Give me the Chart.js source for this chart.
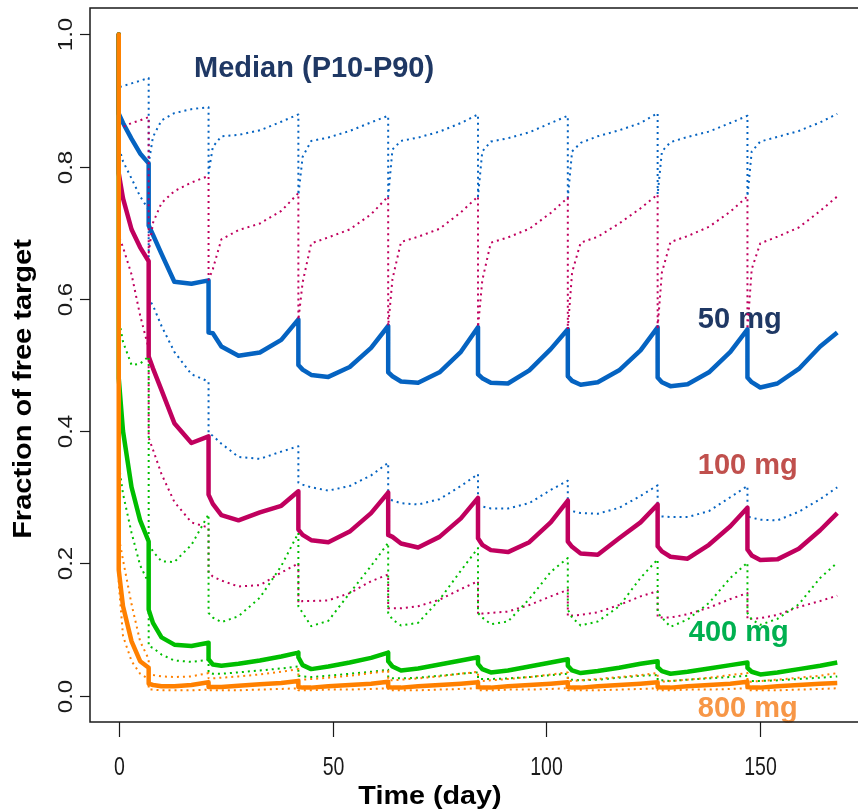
<!DOCTYPE html>
<html>
<head>
<meta charset="utf-8">
<script src="https://cdn.jsdelivr.net/npm/chart.js@4"></script>
<style>
  html, body { margin: 0; padding: 0; background: #fff; overflow: hidden; }
  canvas { display: block; }
</style>
</head>
<body>
<canvas id="chart" width="880" height="812"></canvas>
<script>
// time grid (days); a repeated day is the value just before / just after a dose
const days = [
  0, 0, 1, 3, 5, 7,
  7, 8, 10, 13, 17, 21,
  21, 22, 24, 28, 33, 38, 42,
  42, 43, 45, 49, 54, 59, 63,
  63, 64, 66, 70, 75, 80, 84,
  84, 85, 87, 91, 96, 101, 105,
  105, 106, 108, 112, 117, 122, 126,
  126, 127, 129, 133, 138, 143, 147,
  147, 148, 150, 154, 159, 164, 168
];

// 50 mg
const med50 = [
  1.00, 0.880, 0.866, 0.842, 0.820, 0.805,
  0.711, 0.697, 0.668, 0.626, 0.623, 0.628,
  0.549, 0.548, 0.528, 0.514, 0.519, 0.538, 0.569,
  0.500, 0.493, 0.485, 0.482, 0.497, 0.526, 0.559,
  0.489, 0.483, 0.475, 0.473, 0.489, 0.520, 0.557,
  0.486, 0.480, 0.473, 0.472, 0.492, 0.524, 0.554,
  0.483, 0.476, 0.470, 0.474, 0.492, 0.522, 0.557,
  0.481, 0.474, 0.468, 0.471, 0.489, 0.520, 0.554,
  0.481, 0.474, 0.466, 0.472, 0.494, 0.528, 0.549
];
const lo50 = [
  1.00, 0.830, 0.808, 0.782, 0.755, 0.735,
  0.600, 0.590, 0.559, 0.520, 0.486, 0.475,
  0.397, 0.393, 0.381, 0.361, 0.358, 0.369, 0.377,
  0.322, 0.319, 0.315, 0.310, 0.317, 0.333, 0.352,
  0.299, 0.295, 0.291, 0.289, 0.297, 0.317, 0.335,
  0.289, 0.286, 0.283, 0.283, 0.291, 0.311, 0.325,
  0.281, 0.279, 0.276, 0.275, 0.284, 0.302, 0.318,
  0.272, 0.271, 0.270, 0.270, 0.279, 0.300, 0.317,
  0.271, 0.269, 0.266, 0.265, 0.278, 0.297, 0.315
];
const hi50 = [
  1.00, 0.920, 0.922, 0.926, 0.930, 0.934,
  0.805, 0.845, 0.870, 0.881, 0.887, 0.890,
  0.790, 0.830, 0.846, 0.848, 0.855, 0.868, 0.879,
  0.757, 0.815, 0.839, 0.844, 0.854, 0.867, 0.877,
  0.755, 0.826, 0.839, 0.844, 0.853, 0.866, 0.879,
  0.755, 0.823, 0.838, 0.843, 0.852, 0.866, 0.877,
  0.753, 0.823, 0.836, 0.846, 0.855, 0.866, 0.881,
  0.758, 0.823, 0.837, 0.845, 0.853, 0.866, 0.877,
  0.755, 0.823, 0.838, 0.845, 0.854, 0.867, 0.880
];

// 100 mg
const med100 = [
  1.00, 0.790, 0.752, 0.705, 0.678, 0.657,
  0.513, 0.495, 0.462, 0.412, 0.382, 0.392,
  0.304, 0.290, 0.273, 0.265, 0.277, 0.287, 0.309,
  0.251, 0.243, 0.235, 0.232, 0.248, 0.276, 0.307,
  0.243, 0.240, 0.230, 0.224, 0.240, 0.268, 0.299,
  0.238, 0.228, 0.220, 0.217, 0.232, 0.262, 0.295,
  0.233, 0.225, 0.215, 0.213, 0.238, 0.262, 0.289,
  0.226, 0.218, 0.210, 0.207, 0.228, 0.256, 0.284,
  0.221, 0.212, 0.205, 0.206, 0.222, 0.250, 0.276
];
const lo100 = [
  1.00, 0.695, 0.678, 0.637, 0.575, 0.525,
  0.390, 0.372, 0.335, 0.293, 0.262, 0.254,
  0.186, 0.180, 0.174, 0.165, 0.167, 0.186, 0.200,
  0.140, 0.143, 0.143, 0.144, 0.155, 0.173, 0.183,
  0.132, 0.132, 0.132, 0.135, 0.145, 0.161, 0.173,
  0.123, 0.124, 0.125, 0.127, 0.137, 0.150, 0.160,
  0.120, 0.121, 0.122, 0.126, 0.137, 0.150, 0.158,
  0.118, 0.118, 0.118, 0.123, 0.133, 0.146, 0.155,
  0.115, 0.116, 0.117, 0.122, 0.134, 0.143, 0.151
];
const hi100 = [
  1.00, 0.855, 0.860, 0.866, 0.870, 0.875,
  0.670, 0.715, 0.745, 0.763, 0.776, 0.786,
  0.629, 0.645, 0.690, 0.704, 0.714, 0.733, 0.760,
  0.568, 0.625, 0.684, 0.693, 0.705, 0.728, 0.755,
  0.559, 0.630, 0.686, 0.694, 0.706, 0.731, 0.755,
  0.557, 0.628, 0.685, 0.693, 0.706, 0.730, 0.753,
  0.554, 0.640, 0.685, 0.694, 0.714, 0.737, 0.758,
  0.557, 0.640, 0.686, 0.695, 0.709, 0.732, 0.755,
  0.554, 0.645, 0.684, 0.694, 0.708, 0.733, 0.755
];

// 400 mg
const med400 = [
  1.00, 0.480, 0.400, 0.315, 0.265, 0.233,
  0.130, 0.110, 0.088, 0.077, 0.075, 0.080,
  0.055, 0.047, 0.045, 0.048, 0.053, 0.059, 0.065,
  0.058, 0.046, 0.040, 0.044, 0.050, 0.057, 0.065,
  0.052, 0.044, 0.038, 0.041, 0.047, 0.053, 0.058,
  0.048, 0.040, 0.035, 0.038, 0.044, 0.050, 0.055,
  0.045, 0.038, 0.034, 0.037, 0.042, 0.048, 0.052,
  0.043, 0.037, 0.033, 0.036, 0.041, 0.046, 0.050,
  0.042, 0.036, 0.032, 0.035, 0.040, 0.045, 0.050
];
const lo400 = [
  1.00, 0.350, 0.305, 0.246, 0.197, 0.170,
  0.075, 0.072, 0.062, 0.053, 0.051, 0.054,
  0.035, 0.033, 0.033, 0.035, 0.038, 0.041, 0.044,
  0.030, 0.029, 0.028, 0.030, 0.033, 0.036, 0.039,
  0.027, 0.026, 0.026, 0.027, 0.030, 0.033, 0.035,
  0.025, 0.025, 0.025, 0.026, 0.028, 0.031, 0.033,
  0.024, 0.024, 0.023, 0.024, 0.027, 0.030, 0.031,
  0.023, 0.023, 0.022, 0.024, 0.026, 0.028, 0.030,
  0.022, 0.022, 0.022, 0.023, 0.025, 0.027, 0.029
];
const hi400 = [
  1.00, 0.570, 0.535, 0.500, 0.502, 0.513,
  0.230, 0.218, 0.203, 0.202, 0.228, 0.274,
  0.125, 0.118, 0.111, 0.120, 0.148, 0.196, 0.246,
  0.135, 0.125, 0.105, 0.113, 0.155, 0.196, 0.231,
  0.125, 0.115, 0.106, 0.110, 0.145, 0.189, 0.223,
  0.125, 0.118, 0.108, 0.112, 0.146, 0.187, 0.208,
  0.130, 0.118, 0.106, 0.112, 0.135, 0.178, 0.206,
  0.125, 0.118, 0.104, 0.115, 0.140, 0.178, 0.201,
  0.125, 0.115, 0.107, 0.116, 0.138, 0.178, 0.201
];

// 800 mg
const med800 = [
  1.00, 0.190, 0.135, 0.082, 0.052, 0.042,
  0.018, 0.016, 0.014, 0.014, 0.016, 0.020,
  0.013, 0.013, 0.013, 0.015, 0.017, 0.019, 0.022,
  0.013, 0.012, 0.012, 0.014, 0.016, 0.018, 0.021,
  0.013, 0.012, 0.012, 0.014, 0.016, 0.018, 0.020,
  0.013, 0.012, 0.012, 0.014, 0.016, 0.018, 0.020,
  0.013, 0.012, 0.012, 0.014, 0.016, 0.018, 0.020,
  0.013, 0.012, 0.012, 0.014, 0.016, 0.018, 0.021,
  0.013, 0.012, 0.012, 0.014, 0.016, 0.018, 0.019
];
const lo800 = [
  1.00, 0.170, 0.090, 0.052, 0.033, 0.025,
  0.009, 0.009, 0.008, 0.008, 0.008, 0.009,
  0.008, 0.008, 0.008, 0.008, 0.009, 0.010, 0.011,
  0.008, 0.008, 0.008, 0.009, 0.009, 0.010, 0.011,
  0.008, 0.008, 0.008, 0.008, 0.009, 0.010, 0.011,
  0.008, 0.008, 0.008, 0.009, 0.009, 0.010, 0.011,
  0.008, 0.008, 0.008, 0.008, 0.009, 0.010, 0.011,
  0.008, 0.008, 0.008, 0.009, 0.009, 0.010, 0.011,
  0.008, 0.008, 0.008, 0.008, 0.009, 0.010, 0.011
];
const hi800 = [
  1.00, 0.240, 0.205, 0.138, 0.082, 0.055,
  0.033, 0.031, 0.029, 0.028, 0.029, 0.034,
  0.026, 0.026, 0.027, 0.029, 0.032, 0.036, 0.040,
  0.024, 0.024, 0.025, 0.027, 0.030, 0.034, 0.037,
  0.023, 0.023, 0.024, 0.026, 0.029, 0.033, 0.036,
  0.022, 0.022, 0.023, 0.025, 0.028, 0.032, 0.035,
  0.022, 0.022, 0.023, 0.025, 0.028, 0.031, 0.034,
  0.021, 0.021, 0.022, 0.024, 0.027, 0.031, 0.034,
  0.021, 0.021, 0.022, 0.024, 0.027, 0.030, 0.034
];

const xTicks = [0, 50, 100, 150];
const yTicks = [0, 0.2, 0.4, 0.6, 0.8, 1.0];
const yTickLabels = ['0.0', '0.2', '0.4', '0.6', '0.8', '1.0'];

const BLUE = '#0563C1', RED = '#C0005E', GREEN = '#00BE00', ORANGE = '#FF8000';

// draw order: first in list is drawn first (underneath)
const series = [
  { values: med50, color: BLUE, median: true },
  { values: lo50, color: BLUE },
  { values: hi50, color: BLUE },
  { values: med100, color: RED, median: true },
  { values: lo100, color: RED },
  { values: hi100, color: RED },
  { values: med400, color: GREEN, median: true },
  { values: lo400, color: GREEN },
  { values: hi400, color: GREEN },
  { values: med800, color: ORANGE, median: true },
  { values: lo800, color: ORANGE },
  { values: hi800, color: ORANGE }
];

const notes = [
  { text: 'Median (P10-P90)', day: 17.6, val: 0.936, color: '#1F3864' },
  { text: '50 mg', day: 135.4, val: 0.556, color: '#1F3864' },
  { text: '100 mg', day: 135.4, val: 0.335, color: '#C0504D' },
  { text: '400 mg', day: 133.3, val: 0.083, color: '#00B050' },
  { text: '800 mg', day: 135.4, val: -0.032, color: '#F79646' }
];

const FONT = '"Liberation Sans", Arial, Helvetica, sans-serif';

const datasets = series.map((s, k) => ({
  data: days.map((d, i) => ({ x: d, y: s.values[i] })),
  borderColor: s.color,
  borderWidth: s.median ? 4.5 : 2,
  borderDash: s.median ? [] : [2, 4],
  borderJoinStyle: 'round',
  pointRadius: 0,
  tension: 0,
  fill: false,
  order: series.length - k
}));

function stretchedText(ctx, text, x, y, sx, angle) {
  ctx.save();
  ctx.translate(x, y);
  if (angle) ctx.rotate(angle);
  ctx.scale(sx, 1);
  ctx.fillText(text, 0, 0);
  ctx.restore();
}

const frame = {
  id: 'frame',
  beforeDatasetsDraw(chart) {
    const { ctx, scales: { x, y } } = chart;
    ctx.save();
    ctx.font = 'bold 29px ' + FONT;
    ctx.textAlign = 'left';
    ctx.textBaseline = 'alphabetic';
    notes.forEach(n => {
      ctx.fillStyle = n.color;
      ctx.fillText(n.text, x.getPixelForValue(n.day), y.getPixelForValue(n.val));
    });
    ctx.restore();
  },
  afterDatasetsDraw(chart) {
    const { ctx, chartArea: a, scales: { x, y } } = chart;
    ctx.save();
    ctx.strokeStyle = '#1a1a1a';
    ctx.lineWidth = 1.5;
    ctx.strokeRect(a.left, a.top, a.right - a.left, a.bottom - a.top);

    ctx.fillStyle = '#1a1a1a';
    ctx.lineWidth = 1.2;
    // y axis
    ctx.font = '21px ' + FONT;
    ctx.textAlign = 'center';
    ctx.textBaseline = 'alphabetic';
    yTicks.forEach((v, i) => {
      const py = Math.round(y.getPixelForValue(v)) + 0.5;
      ctx.beginPath();
      ctx.moveTo(a.left - 10, py);
      ctx.lineTo(a.left, py);
      ctx.stroke();
      stretchedText(ctx, yTickLabels[i], 72, py, 1.15, -Math.PI / 2);
    });
    // x axis
    ctx.font = '25px ' + FONT;
    xTicks.forEach(v => {
      const px = Math.round(x.getPixelForValue(v)) + 0.5;
      ctx.beginPath();
      ctx.moveTo(px, a.bottom);
      ctx.lineTo(px, a.bottom + 15);
      ctx.stroke();
      stretchedText(ctx, String(v), px, 775, 0.78, 0);
    });
    // titles
    ctx.fillStyle = '#000';
    ctx.font = 'bold 25px ' + FONT;
    stretchedText(ctx, 'Time (day)', 430, 804, 1.15, 0);
    stretchedText(ctx, 'Fraction of free target', 31, 389, 1.16, -Math.PI / 2);
    ctx.restore();
  }
};

new Chart(document.getElementById('chart').getContext('2d'), {
  type: 'line',
  data: { datasets },
  options: {
    responsive: false,
    animation: false,
    events: [],
    layout: { padding: { left: 90, right: 14, top: 8, bottom: 90 } },
    plugins: { legend: { display: false }, tooltip: { enabled: false } },
    scales: {
      x: { type: 'linear', min: -6.72, max: 174.72, display: false },
      y: { type: 'linear', min: -0.04, max: 1.04, display: false }
    }
  },
  plugins: [frame]
});
</script>
</body>
</html>
